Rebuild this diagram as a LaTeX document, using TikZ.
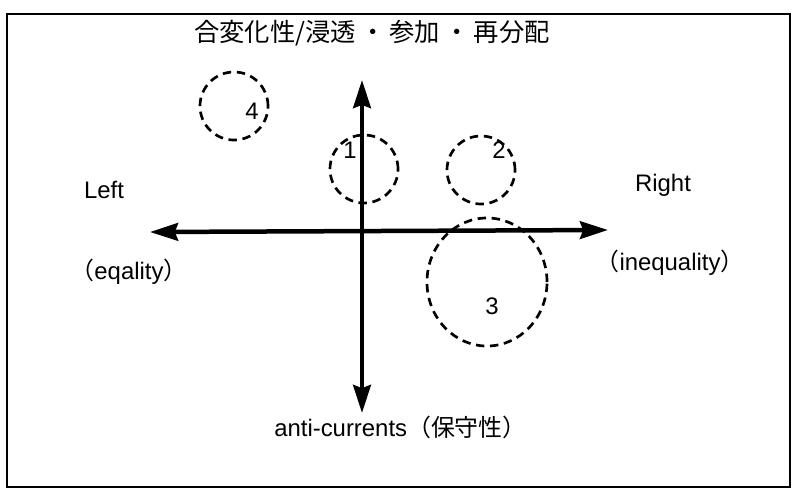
\documentclass[tikz,border=0pt]{standalone}
\usepackage{fontspec}
\setmainfont{Liberation Sans}
\newfontfamily\jp{Noto Sans CJK JP}
\usetikzlibrary{positioning,arrows.meta,shapes.geometric}

\begin{document}
\begin{tikzpicture}[x=0.025cm, y=-0.025cm,
    axis/.style={line width=3.2pt,
                 {Stealth[length=0.7cm, width=0.44cm, inset=0.08cm]}-{Stealth[length=0.7cm, width=0.44cm, inset=0.08cm]}},
    ring/.style={circle, draw=black, line width=1.9pt,
                 dash pattern=on 6pt off 4pt, inner sep=0pt},
    lbl/.style={font=\fontsize{17}{20}\selectfont, inner sep=0pt},
    num/.style={font=\fontsize{17}{20}\selectfont, inner sep=0pt}
]
    \useasboundingbox (0,0) rectangle (795,489);
    \draw[line width=1.6pt] (7,14) rectangle (790,487);

    % headings
    \node[lbl, font=\jp\fontsize{18}{20}\selectfont] (top) at (372,33)
        {合変化性/浸透\,・\,参加\,・\,再分配};
    \node[lbl] (left) at (104,190) {Left};
    \node[lbl] (eq) at (129,272) {{\jp （}eqality{\jp ）}};
    \node[lbl] (right) at (663,185) {Right};
    \node[lbl] (ineq) at (670,263) {{\jp （}inequality{\jp ）}};
    \node[lbl, anchor=west] (anti) at (274,427) {anti-currents{\jp （保守性）}};

    % groups
    \node[ring, minimum size=1.7cm] (c4) at (234,106) {};
    \node[ring, minimum size=1.7cm] (c1) at (364,169) {};
    \node[ring, minimum size=1.7cm] (c2) at (481,170) {};
    \node[ring, ellipse, minimum width=3.0cm, minimum height=3.2cm] (c3) at (487,282) {};
    \node[num] (n4) at (252,111) {4};
    \node[num] (n1) at (350,150) {1};
    \node[num] (n2) at (499,150) {2};
    \node[num] (n3) at (492,306) {3};

    % axes
    \coordinate (ytop) at (362,80);
    \coordinate (ybot) at (362,413);
    \coordinate (xl) at (150,232);
    \coordinate (xr) at (608,230);
    \draw[axis] (ybot) -- (ytop);
    \draw[axis] (xl) -- (xr);
\end{tikzpicture}
\end{document}
